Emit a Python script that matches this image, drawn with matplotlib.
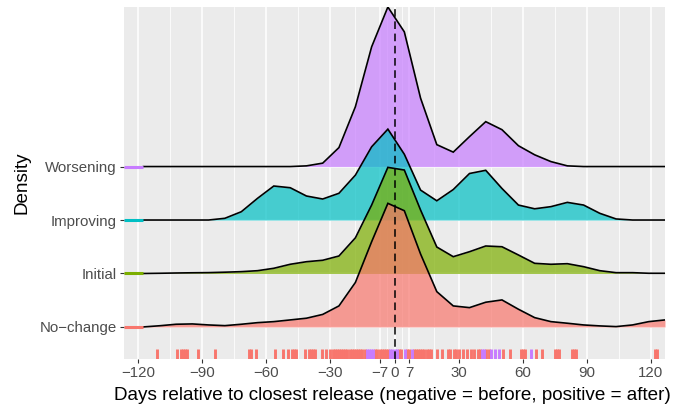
import matplotlib
matplotlib.use("Agg")
import matplotlib.pyplot as plt

# ---------------- data ----------------
groups = ["No\u2212change", "Initial", "Improving", "Worsening"]
colors = ["#F8766D", "#7CAE00", "#00BFC4", "#C77CFF"]

# evaluation grid (days)
days = [-117.5, -109.9, -102.2, -94.6, -87.0, -79.4, -71.7, -64.1, -56.5, -48.8,
        -41.2, -33.6, -26.0, -18.3, -10.7, -3.1, 4.6, 12.2, 19.8, 27.5,
        35.1, 42.7, 50.3, 58.0, 65.6, 73.2, 80.9, 88.5, 96.1, 103.7,
        111.4, 119.0, 126.6]

# ridge heights (in units of the spacing between ridges)
h_nochange = [0.0, 0.022, 0.05, 0.056, 0.037, 0.024, 0.05, 0.08, 0.099, 0.131,
              0.163, 0.234, 0.393, 0.832, 1.594, 2.312, 2.174, 1.364, 0.66, 0.393,
              0.361, 0.462, 0.505, 0.331, 0.174, 0.099, 0.069, 0.037, 0.019, 0.006,
              0.037, 0.099, 0.131]
h_initial = [0.0, 0.004, 0.009, 0.013, 0.016, 0.024, 0.034, 0.052, 0.097, 0.172,
             0.22, 0.247, 0.327, 0.667, 1.28, 1.985, 1.935, 1.187, 0.495, 0.314,
             0.407, 0.514, 0.50, 0.346, 0.19, 0.172, 0.183, 0.127, 0.052, 0.015,
             0.015, 0.004, 0.004]
h_improving = [0.0, 0.0, 0.0, 0.0, 0.0, 0.032, 0.155, 0.406, 0.636, 0.604,
               0.449, 0.393, 0.5, 0.84, 1.37, 1.70, 1.23, 0.56, 0.36, 0.57,
               0.87, 0.93, 0.59, 0.28, 0.21, 0.25, 0.33, 0.28, 0.125, 0.02,
               0.0, 0.0, 0.0]
h_worsening = [0.0, 0.0, 0.0, 0.0, 0.0, 0.0, 0.0, 0.0, 0.0, 0.0,
               0.013, 0.064, 0.355, 1.12, 2.24, 2.985, 2.52, 1.28, 0.41, 0.27,
               0.56, 0.84, 0.69, 0.39, 0.22, 0.093, 0.013, 0.0, 0.0, 0.0,
               0.0, 0.0, 0.0]
heights = [h_nochange, h_initial, h_improving, h_worsening]

# rug (observations, days)
rug_nochange = [-111, -102, -100, -99, -98, -97, -92, -84, -68, -67, -65, -56, -52,
                -50, -48, -47, -46, -42, -40, -39, -38, -37, -34, -32,
                -30, -29, -28, -27, -26, -25, -24, -23, -22, -21, -20, -19, -18,
                -17, -16, -15, -14, -9, -8, -7, -6, -5, -4, -3, 2, 3, 6, 7,
                9, 10, 11, 12, 13, 14, 15, 16, 17, 20, 22, 25, 26, 28, 29, 30,
                32, 34, 36, 37, 39, 40, 43, 44, 51, 54, 59, 60, 61, 66, 69,
                75, 76, 77, 83, 84, 85, 122, 123]
rug_worsening = [-13, -12, -11, -10, -2, -1, 0, 1, 5, 8, 41, 42, 45, 47, 49, 64]

x_breaks = [-120, -90, -60, -30, -7, 0, 7, 30, 60, 90, 120]
x_minor = [-105, -75, -45, -18.5, -3.5, 3.5, 18.5, 45, 75, 105]
x_lim = (-126.6, 126.6)
y_lim = (0.40, 6.985)

# ---------------- figure ----------------
plt.rcParams["font.family"] = ["Liberation Sans", "DejaVu Sans"]
W, H = 693, 409
fig = plt.figure(figsize=(W / 100, H / 100), dpi=100)
ax = fig.add_axes([124 / W, 1 - 359 / H, (665 - 124) / W, (359 - 7) / H])
ax.set_facecolor("#EBEBEB")
for s in ax.spines.values():
    s.set_visible(False)

ax.set_xlim(*x_lim)
ax.set_ylim(*y_lim)

# grid
for xv in x_minor:
    ax.axvline(xv, color="white", lw=0.55, zorder=0.5)
for xv in x_breaks:
    ax.axvline(xv, color="white", lw=1.1, zorder=0.6)
for i in range(len(groups)):
    ax.axhline(i + 1, color="white", lw=1.1, zorder=0.6)

# ridges (top first, lower ones in front)
for i in reversed(range(len(groups))):
    base = i + 1
    top = [base + v for v in heights[i]]
    ax.fill_between(days, base, top, color=colors[i], alpha=0.7, lw=0, zorder=2 + (4 - i))
    ax.plot(days, top, color="black", lw=1.2, zorder=2.1 + (4 - i), solid_joinstyle="miter")
    ax.plot([x_lim[0], days[0]], [base, base], color=colors[i], lw=2.2,
            solid_capstyle="butt", zorder=2.2 + (4 - i))

# rug
ax.vlines(rug_nochange, y_lim[0], 0.59, color=colors[0], lw=2.1, zorder=8)
ax.vlines(rug_worsening, y_lim[0], 0.59, color=colors[3], lw=2.1, zorder=8.1)

# reference line
ax.axvline(0, color="black", lw=1.1, linestyle=(0, (5, 3)), zorder=10)

# axes
ax.set_xticks(x_breaks)
ax.set_xticklabels([("\u2212" + str(-v)) if v < 0 else str(v) for v in x_breaks])
ax.set_yticks([1, 2, 3, 4])
ax.set_yticklabels(groups)
ax.tick_params(axis="both", colors="#333333", length=2.7, width=0.8, labelsize=10.8,
               labelcolor="#4D4D4D", pad=2.5)
ax.minorticks_off()

ax.set_xlabel("Days relative to closest release (negative = before, positive = after)",
              fontsize=13.6, color="black")
ax.set_ylabel("Density", fontsize=13.6, color="black")
ax.xaxis.label.set_va("center")
ax.yaxis.label.set_va("center")
ax.xaxis.set_label_coords(0.5 - 2 / 541, (359 - 395) / 352)
ax.yaxis.set_label_coords((22 - 124) / 541, 0.5)

fig.savefig("out.png", dpi=100)
